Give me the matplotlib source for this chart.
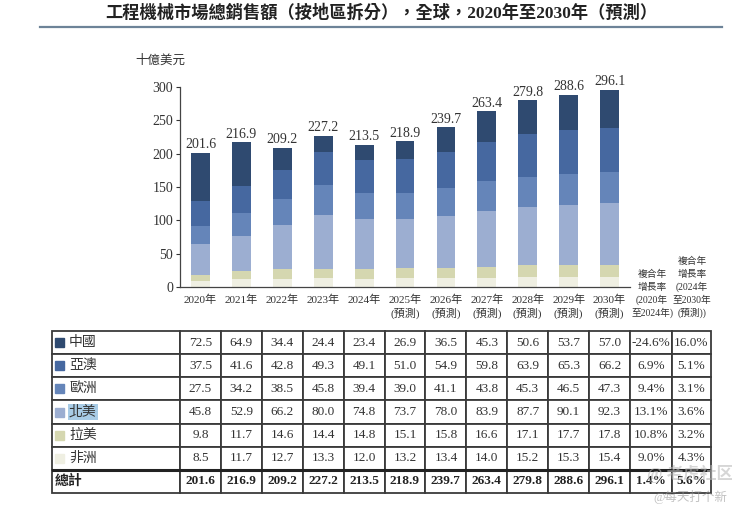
import numpy as np
import matplotlib.pyplot as plt
from matplotlib.patches import Rectangle
from matplotlib.lines import Line2D

plt.rcParams['font.family'] = ['Liberation Serif', 'Noto Sans CJK TC', 'DejaVu Sans']

years = ['2020年', '2021年', '2022年', '2023年', '2024年', '2025年', '2026年',
         '2027年', '2028年', '2029年', '2030年']
forecast = [False] * 5 + [True] * 6
regions = ['中國', '亞澳', '歐洲', '北美', '拉美', '非洲']
china = [72.5, 64.9, 34.4, 24.4, 23.4, 26.9, 36.5, 45.3, 50.6, 53.7, 57.0]
asia_pac = [37.5, 41.6, 42.8, 49.3, 49.1, 51.0, 54.9, 59.8, 63.9, 65.3, 66.2]
europe = [27.5, 34.2, 38.5, 45.8, 39.4, 39.0, 41.1, 43.8, 45.3, 46.5, 47.3]
n_america = [45.8, 52.9, 66.2, 80.0, 74.8, 73.7, 78.0, 83.9, 87.7, 90.1, 92.3]
latam = [9.8, 11.7, 14.6, 14.4, 14.8, 15.1, 15.8, 16.6, 17.1, 17.7, 17.8]
africa = [8.5, 11.7, 12.7, 13.3, 12.0, 13.2, 13.4, 14.0, 15.2, 15.3, 15.4]
totals = [201.6, 216.9, 209.2, 227.2, 213.5, 218.9, 239.7, 263.4, 279.8, 288.6, 296.1]
cagr_20_24 = ['-24.6%', '6.9%', '9.4%', '13.1%', '10.8%', '9.0%', '1.4%']
cagr_24_30 = ['16.0%', '5.1%', '3.1%', '3.6%', '3.2%', '4.3%', '5.6%']

series = [china, asia_pac, europe, n_america, latam, africa]
colors = ['#2f4a70', '#4668a0', '#6585b9', '#9caed1', '#d5d7b0', '#efefe2']
txt = '#333333'

W, H = 732, 514
fig = plt.figure(figsize=(W / 100, H / 100), dpi=100)

def fx(px):
    return px / W

def fy(py):
    return 1 - py / H

# title + rule
fig.text(fx(381), fy(13), '工程機械市場總銷售額（按地區拆分），全球，2020年至2030年（預測）',
         ha='center', va='center', fontsize=12.4, fontweight='bold', color='#222222')
fig.add_artist(Line2D([fx(40), fx(722)], [fy(27), fy(27)], color='#6d8398', lw=1.6))

# bar chart
ax = fig.add_axes([fx(180), fy(287), fx(450), 200 / H])
x = np.arange(len(years))
bottom = np.zeros(len(years))
for vals, c in zip(series[::-1], colors[::-1]):
    ax.bar(x, vals, width=0.46, bottom=bottom, color=c, edgecolor='none')
    bottom += np.array(vals)
for xi, t in zip(x, totals):
    ax.text(xi, t + 2, f'{t:.1f}', ha='center', va='bottom', fontsize=10, color=txt)

ax.set_xlim(-0.5, 10.5)
ax.set_ylim(0, 300)
ax.set_yticks(range(0, 301, 50))
ax.tick_params(axis='y', labelsize=10, colors=txt, length=3, width=0.8, pad=2)
ax.tick_params(axis='x', length=0, labelbottom=False)
for s in ['top', 'right']:
    ax.spines[s].set_visible(False)
ax.spines['left'].set_color('#444444')
ax.spines['bottom'].set_color('#444444')
ax.spines['left'].set_linewidth(0.9)
ax.spines['bottom'].set_linewidth(0.9)
fig.text(fx(160), fy(61), '十億美元', ha='center', va='center', fontsize=9, color=txt)

# year labels under axis
for xi, (yl, fc) in enumerate(zip(years, forecast)):
    xp = fx(180) + (xi + 0.5) / 11 * fx(450)
    fig.text(xp, fy(300), yl, ha='center', va='center', fontsize=8, color=txt)
    if fc:
        fig.text(xp, fy(313), '(預測)', ha='center', va='center', fontsize=8, color=txt)

hdr1 = ['複合年', '增長率', '(2020年', '至2024年)']
hdr2 = ['複合年', '增長率', '(2024年', '至2030年', '(預測))']
for i, s in enumerate(hdr1):
    fig.text(fx(652), fy(274 + 13 * i), s, ha='center', va='center', fontsize=7, color=txt)
for i, s in enumerate(hdr2):
    fig.text(fx(692), fy(261 + 13 * i), s, ha='center', va='center', fontsize=7, color=txt)

# table
tx0, tx1, ty0, ty1 = 52, 711, 331, 493
tab = fig.add_axes([fx(tx0), fy(ty1), fx(tx1 - tx0), (ty1 - ty0) / H])
tab.axis('off')
row_labels = regions + ['總計']
data_rows = series + [totals]
cells = []
for lab, vals, c1, c2 in zip(row_labels, data_rows, cagr_20_24, cagr_24_30):
    cells.append([''] + [f'{v:.1f}' for v in vals] + [c1, c2])
col_w = [128] + [450 / 11] * 11 + [42, 39]
tw = sum(col_w)
th = ty1 - ty0
table = tab.table(cellText=cells, colWidths=[w / tw for w in col_w],
                  bbox=[0, 0, 1, 1], cellLoc='center')
table.auto_set_font_size(False)
for (r, c), cell in table.get_celld().items():
    cell.set_edgecolor('#3a3a3a')
    cell.set_linewidth(1.3)
    t = cell.get_text()
    t.set_fontsize(9.5)
    t.set_color(txt)
    if r == len(cells) - 1:
        t.set_fontweight('bold')
        t.set_color('#222222')

# row labels + legend squares in label column
rh = 1 / len(cells)
for i, lab in enumerate(row_labels):
    yc = 1 - (i + 0.5) * rh
    if i < len(colors):
        tab.add_patch(Rectangle((3 / tw, yc - 4.5 / th), 9 / tw, 9 / th,
                                transform=tab.transAxes, color=colors[i], zorder=5))
        kw = dict(fontsize=10, color=txt)
        if lab == '北美':
            kw['bbox'] = dict(facecolor='#a9cce6', edgecolor='none', pad=1)
        tab.text(17 / tw, yc, lab, ha='left', va='center', zorder=6, **kw)
    else:
        tab.text(3 / tw, yc, lab, ha='left', va='center', fontsize=10,
                 fontweight='bold', color='#222222', zorder=6)
tab.add_artist(Line2D([0, 1], [rh, rh], transform=tab.transAxes, color='#222222', lw=2.2))

# watermark
fig.text(fx(690), fy(474), '@ 老虎社区', ha='center', va='center', fontsize=12,
         color='#bbbbbb', alpha=0.6, fontweight='bold')
fig.text(fx(690), fy(497), '@每天打个新', ha='center', va='center', fontsize=9,
         color='#999999', alpha=0.6)

fig.savefig('out.png', dpi=100, facecolor='white')
